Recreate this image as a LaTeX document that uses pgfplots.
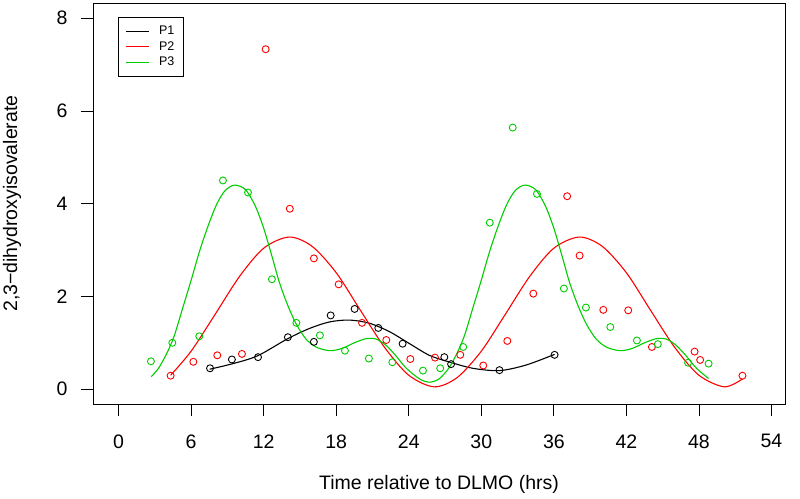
\documentclass[border=0pt]{standalone}
\usepackage{pgfplots}
\pgfplotsset{compat=1.18}
\usepackage{fontspec}
\setmainfont{Liberation Sans}
\definecolor{rgreen}{HTML}{00CD00}
\definecolor{rred}{HTML}{FF0000}
\begin{document}
\begin{tikzpicture}
\useasboundingbox (-93bp,-95bp) rectangle (707bp,404bp);
\begin{axis}[
  scale only axis, width=692bp, height=400.7bp,
  xmin=-2.12, xmax=55.12, ymin=-0.32, ymax=8.32,
  xtick={0,6,...,54}, ytick={0,2,4,6,8},
  xtick pos=bottom, ytick pos=left,
  tick align=outside, major tick length=12bp,
  every tick/.style={black, line width=0.75bp},
  axis line style={line width=0.75bp},
  /pgf/number format/assume math mode=true,
  tick label style={font=\fontsize{19.5bp}{23bp}\selectfont},
  xticklabel style={anchor=north, yshift=-15bp},
  yticklabel style={anchor=east, xshift=-10bp},
  xlabel={Time relative to DLMO (hrs)},
  ylabel={2,3−dihydroxyisovalerate},
  label style={font=\fontsize{19.5bp}{23bp}\selectfont},
  xlabel style={at={(axis description cs:0.5,-0.202)}, anchor=center},
  ylabel style={at={(axis description cs:-0.117,0.5)}, anchor=center},
  legend cell align=left,
  legend image code/.code={\draw[#1, line width=1.1bp] (0bp,0bp) -- (22.7bp,0bp);},
  legend style={at={(rel axis cs:0.036,0.967)}, anchor=north west, draw=black, line width=0.75bp, fill=white,
    font=\fontsize{12.5bp}{14bp}\selectfont, inner xsep=7bp, inner ysep=7.5bp, row sep=1.2bp,
    /tikz/every odd column/.append style={column sep=8bp}},
]
% scatter points
\addplot[only marks, mark=o, black, mark size=3.5bp, line width=0.9bp, forget plot] coordinates {
(7.56,0.45) (9.37,0.64) (11.53,0.69) (14.0,1.12) (16.15,1.02) (17.54,1.59) (19.52,1.73)
(21.48,1.32) (23.49,0.98) (26.94,0.69) (27.5,0.54) (31.5,0.41) (36.06,0.74)};
\addplot[only marks, mark=o, rred, mark size=3.5bp, line width=0.9bp, forget plot] coordinates {
(4.3,0.29) (6.18,0.59) (8.16,0.73) (10.2,0.76) (12.16,7.33) (14.16,3.89) (16.15,2.82) (18.2,2.26)
(20.13,1.43) (22.14,1.06) (24.13,0.65) (26.17,0.68) (28.26,0.74) (30.16,0.51) (32.15,1.04)
(34.3,2.06) (37.1,4.16) (38.13,2.88) (40.09,1.71) (42.15,1.70) (44.11,0.91) (47.64,0.81)
(48.1,0.63) (51.6,0.29)};
\addplot[only marks, mark=o, rgreen, mark size=3.5bp, line width=0.9bp, forget plot] coordinates {
(2.67,0.60) (4.44,1.00) (6.67,1.14) (8.63,4.50) (10.7,4.24) (12.68,2.37) (14.7,1.43) (16.65,1.16)
(18.72,0.83) (20.7,0.66) (22.64,0.58) (25.17,0.40) (26.6,0.45) (28.5,0.91) (30.7,3.59)
(32.6,5.64) (34.6,4.21) (36.83,2.17) (38.65,1.76) (40.67,1.34) (42.87,1.05) (44.6,0.97)
(47.1,0.57) (48.8,0.55)};
% fitted curves
\addplot[black, line width=1.1bp, smooth, no marks] coordinates {
(7.53,0.43) (9.45,0.55) (11.5,0.72) (14.0,1.09) (15.8,1.31) (17.45,1.45) (19.1,1.49)
(20.76,1.42) (22.4,1.24) (24.07,0.98) (25.7,0.73) (27.3,0.59) (29.3,0.45) (31.5,0.40)
(33.7,0.52) (36.06,0.75)};
\addlegendentry{P1}
\addplot[rred, line width=1.1bp, smooth, no marks] coordinates {
(4.3,0.30) (6.0,0.82) (8.0,1.62) (10.0,2.43) (12.0,3.04) (14.1,3.28) (16.0,3.08) (18.0,2.51)
(20.0,1.70) (22.0,0.90) (24.0,0.30) (26.1,0.05) (28.0,0.25) (30.0,0.82) (32.0,1.62) (34.0,2.43)
(36.0,3.04) (38.1,3.28) (40.0,3.08) (42.0,2.51) (44.0,1.70) (46.0,0.90) (48.0,0.30) (50.1,0.05)
(51.6,0.22)};
\addlegendentry{P2}
\addplot[rgreen, line width=1.1bp, smooth, no marks] coordinates {
(2.7,0.27) (3.3,0.45) (4.0,0.78) (4.6,1.15) (5.3,1.75) (6.0,2.35) (6.7,2.98) (7.4,3.52)
(8.1,3.98) (8.8,4.28) (9.6,4.40) (10.5,4.30) (11.3,3.95) (12.0,3.47) (12.7,2.85) (13.3,2.30)
(14.0,1.80) (14.7,1.40) (15.5,1.08) (16.4,0.90) (17.5,0.83) (18.5,0.88) (19.5,1.00) (20.5,1.09)
(21.3,1.08) (22.1,0.95) (22.9,0.73) (23.8,0.45) (24.9,0.22) (25.7,0.15) (26.5,0.22) (27.3,0.45)
(28.0,0.78) (28.6,1.15) (29.3,1.75) (30.0,2.35) (30.7,2.98) (31.4,3.52) (32.1,3.98) (32.8,4.28)
(33.6,4.40) (34.5,4.30) (35.3,3.95) (36.0,3.47) (36.7,2.85) (37.3,2.30) (38.0,1.80) (38.7,1.40)
(39.5,1.08) (40.4,0.90) (41.5,0.83) (42.5,0.88) (43.5,1.00) (44.5,1.09) (45.3,1.08) (46.1,0.95)
(46.9,0.73) (47.8,0.45) (48.8,0.23)};
\addlegendentry{P3}
\end{axis}
\end{tikzpicture}
\end{document}
